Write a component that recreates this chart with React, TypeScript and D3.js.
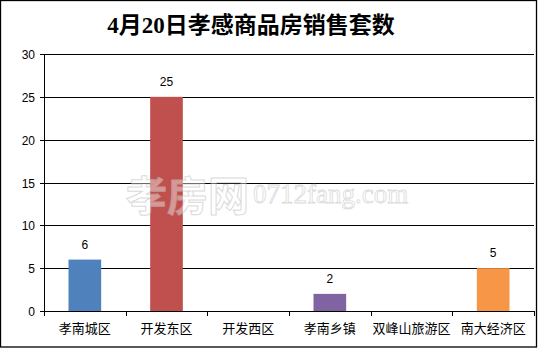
import React from "react";
import * as d3 from "d3";

const TITLE = "4月20日孝感商品房销售套数";
const categories = ["孝南城区", "开发东区", "开发西区", "孝南乡镇", "双峰山旅游区", "南大经济区"];
const values: (number | null)[] = [6, 25, null, 2, null, 5];
const colors = ["#4F81BD", "#C0504D", "#9BBB59", "#8064A2", "#4BACC6", "#F79646"];
const yTicks = [0, 5, 10, 15, 20, 25, 30];

const W = 538;
const H = 349;

export default function App() {
  const left = 44;
  const right = 534;
  const top = 54;
  const bottom = 311;

  const x = d3.scaleBand<string>().domain(categories).range([left, right]).paddingInner(0.6).paddingOuter(0.3);
  const y = d3.scaleLinear().domain([0, 30]).range([bottom, top]);
  const step = x.step();
  const bw = x.bandwidth();

  const sans = "'Liberation Sans', Arial, 'Noto Sans CJK SC', sans-serif";
  const cjk = "'Noto Sans CJK SC', sans-serif";

  return (
    <svg width={W} height={H} style={{ position: "absolute", left: 0, top: 0, background: "#fff" }}>
      <rect x={0} y={0} width={W} height={H} fill="#fff" />
      <rect x={0.5} y={0.5} width={536} height={346.5} fill="none" stroke="#000" strokeWidth={1.3} />
      <text x={251} y={33} textAnchor="middle" fontFamily="'Liberation Serif', 'Noto Sans CJK SC', serif" fontWeight="bold" fontSize={23} fill="#000">
        {TITLE}
      </text>
      {/* gridlines and y ticks */}
      {yTicks.map((t) => (
        <g key={t}>
          <line x1={40} x2={right} y1={Math.round(y(t)) + 0.5} y2={Math.round(y(t)) + 0.5} stroke="#000" strokeWidth={1} />
          <text x={35} y={Math.round(y(t)) + 4.5} textAnchor="end" fontFamily={sans} fontSize={12} fill="#000">
            {t}
          </text>
        </g>
      ))}
      {/* bars */}
      {categories.map((c, i) => {
        const v = values[i];
        if (v == null) return null;
        const bx = x(c)!;
        return (
          <g key={c}>
            <rect x={bx} y={y(v)} width={bw} height={y(0) - y(v)} fill={colors[i]} />
            <text x={bx + bw / 2} y={y(v) - 11} textAnchor="middle" fontFamily={sans} fontSize={12} fill="#000">
              {v}
            </text>
          </g>
        );
      })}
      {/* watermark */}
      <g opacity={0.6}>
        <text x={126} y={211} fontFamily={cjk} fontWeight="bold" fontSize={41} fill="#fff" fillOpacity={0.7} stroke="#c4c4c4" strokeWidth={1}>
          孝房网
        </text>
        <text x={253} y={203} fontFamily="'Liberation Serif', serif" fontSize={27} fill="#fff" fillOpacity={0.7} stroke="#c4c4c4" strokeWidth={0.8}>
          0712fang.com
        </text>
      </g>
      {/* axes */}
      <line x1={left + 0.5} x2={left + 0.5} y1={top} y2={bottom + 5} stroke="#000" strokeWidth={1} />
      <line x1={left} x2={right} y1={bottom + 0.5} y2={bottom + 0.5} stroke="#000" strokeWidth={1} />
      {d3.range(categories.length + 1).map((k) => {
        const tx = Math.round(left + k * step) + 0.5;
        return <line key={k} x1={tx} x2={tx} y1={bottom} y2={bottom + 5} stroke="#000" strokeWidth={1} />;
      })}
      {categories.map((c) => (
        <text key={c} x={x(c)! + bw / 2} y={333} textAnchor="middle" fontFamily={cjk} fontSize={13} fill="#000">
          {c}
        </text>
      ))}
    </svg>
  );
}
